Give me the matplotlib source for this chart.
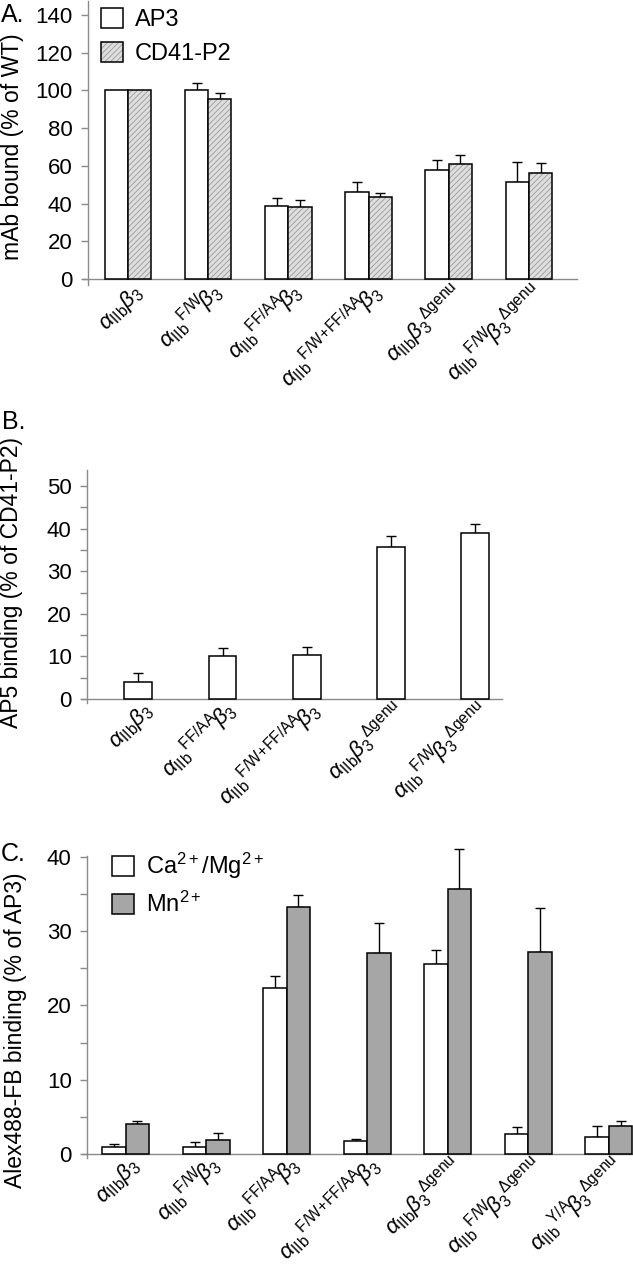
# 3パネルの棒グラフ (A: mAb bound, B: AP5 binding, C: Alex488-FB binding)
import numpy as np
import matplotlib
matplotlib.use('Agg')
import matplotlib.pyplot as plt
from matplotlib.patches import Patch
from matplotlib.legend_handler import HandlerTuple

plt.rcParams['font.family'] = ['Liberation Sans', 'DejaVu Sans']
plt.rcParams['mathtext.fontset'] = 'custom'
plt.rcParams['mathtext.rm'] = 'Liberation Sans'
plt.rcParams['mathtext.it'] = 'Liberation Sans:italic'
plt.rcParams['mathtext.bf'] = 'Liberation Sans:bold'
plt.rcParams['hatch.linewidth'] = 0.6

# ラベル
lab_wt = r'$\alpha_{\mathrm{IIb}}\beta_3$'
lab_fw = r'$\alpha_{\mathrm{IIb}}{}^{\mathrm{F/W}}\!\beta_3$'
lab_ff = r'$\alpha_{\mathrm{IIb}}{}^{\mathrm{FF/AA}}\!\beta_3$'
lab_fwff = r'$\alpha_{\mathrm{IIb}}{}^{\mathrm{F/W\!+\!FF/AA}}\!\beta_3$'
lab_dg = r'$\alpha_{\mathrm{IIb}}\beta_3{}^{\Delta\mathrm{genu}}$'
lab_fwdg = r'$\alpha_{\mathrm{IIb}}{}^{\mathrm{F/W}}\!\beta_3{}^{\Delta\mathrm{genu}}$'
lab_yadg = r'$\alpha_{\mathrm{IIb}}{}^{\mathrm{Y/A}}\!\beta_3{}^{\Delta\mathrm{genu}}$'

# パネルA のデータ
labels_a = [lab_wt, lab_fw, lab_ff, lab_fwff, lab_dg, lab_fwdg]
ap3 = [100, 100, 38.7, 46.1, 57.6, 51.4]
ap3_err = [0, 3.9, 4.1, 5.3, 5.5, 10.5]
cd41 = [100, 95.3, 38.0, 43.3, 60.8, 56.2]
cd41_err = [0, 3.2, 3.7, 2.1, 5.1, 5.3]

# パネルB のデータ
labels_b = [lab_wt, lab_ff, lab_fwff, lab_dg, lab_fwdg]
ap5 = [4.1, 10.0, 10.4, 35.7, 39.1]
ap5_err = [2.0, 1.9, 1.8, 2.6, 2.1]

# パネルC のデータ
labels_c = [lab_wt, lab_fw, lab_ff, lab_fwff, lab_dg, lab_fwdg, lab_yadg]
camg = [0.9, 0.9, 22.3, 1.7, 25.6, 2.7, 2.3]
camg_err = [0.4, 0.7, 1.7, 0.3, 1.8, 0.9, 1.4]
mn = [4.1, 1.9, 33.2, 27.0, 35.7, 27.2, 3.7]
mn_err = [0.4, 0.9, 1.6, 4.1, 5.4, 5.9, 0.8]

HATCH_FACE = '#dedede'
HATCH_LINE = '#9a9a9a'
MN_FACE = '#a6a6a6'

W, H = 633, 1265
fig = plt.figure(figsize=(W / 100, H / 100), dpi=100)


def make_ax(l, r, t, b):
    return fig.add_axes([l / W, 1 - b / H, (r - l) / W, (b - t) / H])


def style_ax(ax, xlim, ylim, major, minor=None):
    ax.set_xlim(*xlim)
    ax.set_ylim(*ylim)
    for s in ['top', 'right', 'bottom']:
        ax.spines[s].set_visible(False)
    ax.spines['left'].set_color('#8a8a8a')
    ax.spines['left'].set_linewidth(1.0)
    ax.set_yticks(major)
    if minor is not None:
        ax.set_yticks(minor, minor=True)
    ax.tick_params(axis='y', which='both', direction='out', length=5,
                   width=1, color='#8a8a8a', labelsize=16, pad=6)
    ax.tick_params(axis='x', length=0, pad=2)
    # x軸の線 (少し左へはみ出す)
    w_px = ax.get_position().width * W
    ax.axhline(0, xmin=-5 / w_px, xmax=1, color='#8a8a8a', lw=1.0,
               clip_on=False, zorder=1)


def xlabels(ax, x, labels):
    ax.set_xticks(x)
    ax.set_xticklabels(labels, rotation=45, ha='right', va='baseline',
                       rotation_mode='anchor', fontsize=16)
    for t in ax.get_xticklabels():
        t.set_transform(t.get_transform() +
                        matplotlib.transforms.ScaledTranslation(0.15, -0.06, fig.dpi_scale_trans))


def draw_err(ax, x, y, e):
    y = np.array(y)
    e = np.array(e)
    m = e > 0
    ax.errorbar(np.array(x)[m], y[m], yerr=[np.zeros(m.sum()), e[m]], fmt='none',
                ecolor='black', elinewidth=1.0, capsize=3.5, capthick=1.0,
                zorder=2, clip_on=False)


def legend(ax, handles, names, x_px, y_px):
    ax.legend(handles, names, loc='upper left',
              bbox_to_anchor=(x_px / W, 1 - y_px / H), bbox_transform=fig.transFigure,
              frameon=False, fontsize=17, handlelength=0.95, handleheight=0.95,
              handletextpad=0.5, labelspacing=0.45, borderpad=0, borderaxespad=0,
              handler_map={tuple: HandlerTuple(ndivide=1, pad=0)})


# ---------------- A ----------------
axA = make_ax(88, 577, 1, 285)
style_ax(axA, (-0.5, 5.6), (-3.2, 147.4), np.arange(0, 141, 20))
xa = np.arange(len(labels_a))
w = 0.29
axA.bar(xa - w / 2, ap3, w, color='white', edgecolor='black', lw=1.1, zorder=3)
axA.bar(xa + w / 2, cd41, w, color=HATCH_FACE, edgecolor=HATCH_LINE, hatch='//////',
        lw=0, zorder=3)
axA.bar(xa + w / 2, cd41, w, fill=False, edgecolor='black', lw=1.1, zorder=3)
draw_err(axA, xa - w / 2, ap3, ap3_err)
draw_err(axA, xa + w / 2, cd41, cd41_err)
xlabels(axA, xa, labels_a)

hA = [Patch(facecolor='white', edgecolor='black', lw=1.1),
      (Patch(facecolor=HATCH_FACE, edgecolor=HATCH_LINE, hatch='//////', lw=0),
       Patch(fill=False, edgecolor='black', lw=1.1))]
legend(axA, hA, ['AP3', 'CD41-P2'], 101, 8)

fig.text(13 / W, 1 - 147 / H, 'mAb bound (% of WT)', rotation=90, ha='center',
         va='center', fontsize=16.5)
fig.text(1 / W, 1 - 3 / H, 'A.', ha='left', va='top', fontsize=18)

# ---------------- B ----------------
axB = make_ax(87, 502, 470, 703)
style_ax(axB, (-0.61, 4.32), (-0.94, 53.8), np.arange(0, 51, 10), np.arange(5, 50, 10))
xb = np.arange(len(labels_b))
axB.bar(xb, ap5, 0.33, color='white', edgecolor='black', lw=1.1, zorder=3)
draw_err(axB, xb, ap5, ap5_err)
xlabels(axB, xb, labels_b)
fig.text(12 / W, 1 - 583 / H, 'AP5 binding (% of CD41-P2)', rotation=90, ha='center',
         va='center', fontsize=16.5)
fig.text(2 / W, 1 - 410 / H, 'B.', ha='left', va='top', fontsize=18)

# ---------------- C ----------------
axC = make_ax(87, 633, 856, 1158)
style_ax(axC, (-0.48, 6.30), (-0.54, 40.1), np.arange(0, 41, 10), np.arange(5, 40, 10))
xc = np.arange(len(labels_c))
w = 0.29
axC.bar(xc - w / 2, camg, w, color='white', edgecolor='black', lw=1.1, zorder=3)
axC.bar(xc + w / 2, mn, w, color=MN_FACE, edgecolor='black', lw=1.1, zorder=3)
draw_err(axC, xc - w / 2, camg, camg_err)
draw_err(axC, xc + w / 2, mn, mn_err)
xlabels(axC, xc, labels_c)
hC = [Patch(facecolor='white', edgecolor='black', lw=1.1),
      Patch(facecolor=MN_FACE, edgecolor='black', lw=1.1)]
legend(axC, hC, [r'Ca$^{2+}$/Mg$^{2+}$', r'Mn$^{2+}$'], 112, 851)
fig.text(16 / W, 1 - 1030 / H, 'Alex488-FB binding (% of AP3)', rotation=90,
         ha='center', va='center', fontsize=16.5)
fig.text(1 / W, 1 - 842 / H, 'C.', ha='left', va='top', fontsize=18)

fig.savefig('out.png', dpi=100)
